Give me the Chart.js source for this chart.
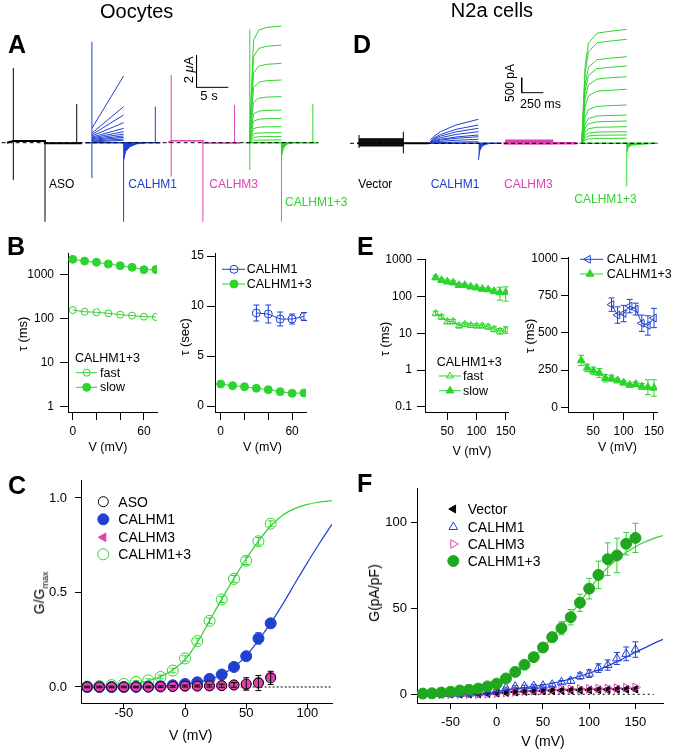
<!DOCTYPE html>
<html>
<head>
<meta charset="utf-8">
<script src="https://cdn.jsdelivr.net/npm/chart.js@4.4.1/dist/chart.umd.min.js"></script>
<style>
body { margin: 0; background: #fff; }
#fig { position: relative; width: 675px; height: 754px; overflow: hidden; font-family: "Liberation Sans", Arial, Helvetica, sans-serif; color: #000; }
#fig canvas { position: absolute; }
.t { position: absolute; white-space: nowrap; line-height: 1; }
</style>
</head>
<body>
<div id="fig"></div>
<script>
// ---------- A: oocyte current families (time s, current uA) ----------
const A_SWEEP_AT = [0, 12.4, 24.9, 37.3];
const A_ASO_BASE = [[-1.0, 0], [0, 0.1], [5, 0.1], [5, -0.03], [10.8, -0.03]];
const A_ASO_SPIKES = [[0, -2.33, 4.67], [5, -4.94, 0], [10, 0, 2.42]];
const A_C1_START = [0.9, 0.6, 0.5, 0.42, 0.35, 0.3, 0.25, 0.2, 0.15, 0.1, 0.05];
const A_C1_END = [4.17, 2.25, 1.73, 1.25, 0.9, 0.69, 0.54, 0.42, 0.33, 0.23, 0.15];
const A_C1_TAIL_T = [5, 5.3, 6, 7, 8.5];
const A_C1_TAIL = [-1.1, -0.55, -0.25, -0.08, 0];
const A_C1_SPIKES = [[0, -2.22, 6.31], [5, -4.94, 0], [10, 0, 2.25]];
const A_C3_BASE = [[-0.5, 0], [0, 0.12], [5, 0.12], [5, -0.02], [10.9, -0.02]];
const A_C3_SPIKES = [[0, -2.12, 4.23], [5, -4.94, 0], [10, 0, 2.36]];
const A_C13_T = [0, 0.2, 0.6, 1.4, 2.7, 5];
const A_C13_TRACES = [
  [0, 2.7, 6.42, 7.04, 7.21, 7.29],
  [0, 2.25, 5.37, 5.89, 6.03, 6.1],
  [0, 1.84, 4.36, 4.79, 4.9, 4.96],
  [0, 1.45, 3.45, 3.78, 3.88, 3.92],
  [0, 1.07, 2.53, 2.78, 2.85, 2.88],
  [0, 0.75, 1.8, 1.97, 2.02, 2.04],
  [0, 0.56, 1.34, 1.47, 1.5, 1.52],
  [0, 0.37, 0.88, 0.97, 0.99, 1.0],
  [0, 0.23, 0.55, 0.61, 0.62, 0.63],
  [0, 0.14, 0.33, 0.37, 0.38, 0.38],
  [0, 0.06, 0.15, 0.16, 0.17, 0.17]
];
const A_C13_TAIL_T = [5, 5.3, 5.8, 6.5, 7];
const A_C13_TAIL = [-0.9, -0.35, -0.1, -0.03, 0];
const A_C13_SPIKES = [[0, -1.7, 7.09], [5, -4.94, 0], [9.95, 0, 2.42]];

// ---------- D: N2a current families (time ms, current pA) ----------
const D_SWEEP_AT = [0, 822, 1690, 2578];
const D_VEC_T = [0, 513];
const D_VEC_HI = 150, D_VEC_LO = -90;
const D_VEC_SPIKES = [[0, -157, 277], [513, -333, 387]];
const D_C1_T = [0, 40, 120, 300, 560];
const D_C1_TRACES = [
  [100, 220, 387, 610, 800],
  [30, 168, 293, 464, 610],
  [25, 138, 240, 380, 500],
  [20, 106, 186, 294, 387],
  [15, 76, 133, 210, 277],
  [10, 60, 106, 167, 220],
  [5, 37, 64, 101, 133],
  [0, 15, 25, 40, 53]
];
const D_C1_TAIL_T = [560, 575, 600, 640, 700];
const D_C1_TAIL = [-557, -250, -100, -40, 0];
const D_C3_T = [0, 560];
const D_C3_HI = 110, D_C3_LO = -20;
const D_C13_T = [0, 38, 77, 174, 289, 521];
const D_C13_TRACES = [
  [0, 2553, 3333, 3667, 3720, 3800],
  [0, 2330, 3040, 3345, 3395, 3467],
  [0, 1940, 2530, 2785, 2825, 2887],
  [0, 1730, 2260, 2485, 2525, 2577],
  [0, 1490, 1945, 2140, 2175, 2220],
  [0, 1210, 1580, 1735, 1760, 1800],
  [0, 860, 1120, 1230, 1250, 1277],
  [0, 635, 825, 910, 925, 943],
  [0, 500, 650, 715, 727, 743],
  [0, 370, 485, 535, 540, 553],
  [0, 260, 340, 375, 380, 387],
  [0, 185, 243, 267, 271, 277],
  [0, 112, 146, 161, 163, 167]
];
const D_C13_TAIL_T = [521, 540, 580, 700, 880];
const D_C13_TAIL = [-300, -120, -60, -30, 0];
const D_C13_SPIKES = [[521, -1447, 0]];

// ---------- B: tau vs V, oocytes ----------
const V_B = [0, 10, 20, 30, 40, 50, 60, 70];
const B_FAST_MS = [154, 141, 137, 130, 121, 115, 109, 107];
const B_SLOW_MS = [2190, 2000, 1875, 1715, 1570, 1443, 1275, 1280];
const V_B_C1 = [30, 40, 50, 60, 70];
const B_C1_SEC = [9.3, 9.2, 8.7, 8.7, 8.95];
const B_C1_SEC_ERR = [0.8, 0.9, 0.7, 0.5, 0.4];
const B_C13_SEC = [2.2, 2.03, 1.93, 1.77, 1.63, 1.43, 1.27, 1.3];

// ---------- E: tau vs V, N2a ----------
const V_E = [30, 40, 50, 60, 70, 80, 90, 100, 110, 120, 130, 140, 150];
const E_SLOW_MS = [330, 280, 255, 240, 205, 205, 185, 175, 160, 155, 140, 130, 130];
const E_SLOW_ERR = [40, 30, 30, 30, 25, 20, 20, 20, 15, 15, 20, 50, 55];
const E_FAST_MS = [35, 28, 21, 21, 16, 17.5, 16.5, 16, 16, 15, 13, 11.5, 12.5];
const E_FAST_ERR = [5, 4, 3, 3, 2, 2, 2, 2, 2, 2, 2, 2, 2.5];
const V_E_C1 = [80, 90, 100, 110, 120, 130, 140, 150];
const E_C1_MS = [690, 620, 630, 680, 660, 565, 550, 600];
const E_C1_ERR = [45, 55, 55, 45, 40, 55, 65, 65];
const E_C13_MS = [315, 265, 245, 230, 195, 195, 180, 165, 150, 155, 140, 135, 130];
const E_C13_ERR = [35, 25, 25, 30, 25, 20, 15, 15, 15, 15, 20, 50, 55];

// ---------- C: G/Gmax, oocytes ----------
const V_C = [-80, -70, -60, -50, -40, -30, -20, -10, 0, 10, 20, 30, 40, 50, 60, 70];
const C_ASO = [0, 0, 0, 0, 0, 0, 0.002, 0.003, 0.005, 0.005, 0.006, 0.007, 0.011, 0.016, 0.021, 0.048];
const C_ASO_ERR = [0.004, 0.004, 0.004, 0.004, 0.004, 0.004, 0.004, 0.004, 0.005, 0.005, 0.006, 0.008, 0.012, 0.033, 0.04, 0.035];
const C_CALHM3 = [0, 0, 0, 0, 0, 0, 0, 0.002, 0.004, 0.005, 0.006, 0.008, 0.01, 0.012, 0.025, 0.053];
const C_CALHM1 = [0, 0, 0, 0, 0.001, 0.002, 0.004, 0.009, 0.016, 0.025, 0.043, 0.066, 0.106, 0.163, 0.257, 0.337];
const C_CALHM1_ERR = [0.003, 0.003, 0.003, 0.003, 0.003, 0.003, 0.004, 0.004, 0.005, 0.005, 0.006, 0.006, 0.008, 0.015, 0.03, 0.02];
const C_CALHM13 = [0.003, 0.005, 0.01, 0.016, 0.027, 0.035, 0.053, 0.087, 0.151, 0.243, 0.35, 0.463, 0.572, 0.668, 0.771, 0.864];
const C_CALHM13_ERR = [0.004, 0.004, 0.005, 0.006, 0.007, 0.008, 0.01, 0.012, 0.014, 0.015, 0.015, 0.016, 0.018, 0.02, 0.02, 0.015];
const V_C_FIT = [-85, -80, -70, -60, -50, -40, -30, -20, -10, 0, 10, 20, 30, 40, 50, 60, 70, 80, 90, 100, 110, 120];
const C_FIT_CALHM13 = [0.002, 0.003, 0.005, 0.008, 0.013, 0.021, 0.033, 0.055, 0.09, 0.145, 0.235, 0.35, 0.465, 0.575, 0.678, 0.772, 0.852, 0.91, 0.945, 0.966, 0.978, 0.986];
const C_FIT_CALHM1 = [0, 0, 0, 0, 0.001, 0.001, 0.002, 0.004, 0.008, 0.014, 0.024, 0.04, 0.066, 0.106, 0.165, 0.248, 0.338, 0.44, 0.55, 0.658, 0.762, 0.86];

// ---------- F: G (pA/pF), N2a ----------
const V_F = [-80, -70, -60, -50, -40, -30, -20, -10, 0, 10, 20, 30, 40, 50, 60, 70, 80, 90, 100, 110, 120, 130, 140, 150];
const F_CALHM13 = [0.4, 0.6, 1.0, 1.5, 2.2, 2.6, 3.3, 4.6, 6.2, 9.2, 13.0, 17.2, 21.6, 27.2, 33.2, 38.4, 44.8, 53.2, 61.4, 69.4, 78.5, 80.7, 87.5, 90.9];
const F_CALHM13_ERR = [0.5, 0.5, 0.5, 0.5, 0.6, 0.7, 0.8, 0.9, 1.0, 1.2, 1.4, 1.6, 1.8, 2.0, 2.8, 3.8, 4.5, 5, 6, 8, 9.5, 10, 6.5, 8.5];
const F_CALHM1 = [0.3, 0.3, 0.2, 0.2, 0.3, 0.4, 0.6, 1.2, 2.2, 3.6, 4.4, 4.6, 4.8, 5.0, 5.6, 7.0, 7.8, 10.6, 12.0, 15.2, 17.0, 20.8, 23.5, 26.0];
const F_CALHM1_ERR = [0.3, 0.3, 0.3, 0.3, 0.3, 0.3, 0.3, 0.4, 0.5, 0.6, 0.6, 0.7, 0.8, 0.8, 0.9, 1.0, 1.5, 1.8, 2.2, 2.5, 3.0, 3.5, 4.0, 4.5];
const F_CALHM3 = [0.1, 0.1, 0.1, 0.1, 0.1, 0.1, 0.1, 0.3, 0.6, 1.0, 1.4, 1.8, 2.1, 2.4, 2.6, 2.8, 3.0, 3.1, 3.2, 3.3, 3.4, 3.6, 3.8, 4.0];
const F_VECTOR = [0.3, 0.2, 0.2, 0.1, 0.1, 0.1, 0.2, 0.4, 0.7, 1.0, 1.3, 1.6, 1.8, 2.0, 2.1, 2.2, 2.3, 2.4, 2.5, 2.6, 2.7, 2.8, 2.9, 3.0];
const V_F_FIT = [-85, -80, -70, -60, -50, -40, -30, -20, -10, 0, 10, 20, 30, 40, 50, 60, 70, 80, 90, 100, 110, 120, 130, 140, 150, 160, 170, 180];
const F_FIT_CALHM13 = [0.3, 0.3, 0.5, 0.8, 1.1, 1.6, 2.3, 3.3, 4.7, 6.6, 9.2, 12.5, 16.7, 21.6, 27.1, 33.2, 39.6, 46.4, 53.5, 61, 67.8, 73.6, 78.5, 82.5, 85.8, 88.5, 90.6, 92.3];
const F_FIT_CALHM1 = [0, 0, 0, 0, 0, 0, 0.1, 0.3, 0.9, 1.6, 2.4, 3.2, 3.9, 4.6, 5.4, 6.4, 7.6, 9.0, 10.5, 12.2, 14.2, 16.5, 19.0, 21.7, 24.5, 27.0, 29.6, 32.0];
const V_F_FIT_C3 = [-20, -10, 0, 10, 20, 40, 60, 80, 100, 120, 150];
const F_FIT_CALHM3 = [0.2, 0.5, 0.8, 1.2, 1.6, 2.2, 2.6, 2.9, 3.1, 3.3, 3.5];

// ---------- styling ----------
const FONT = '"Liberation Sans", Arial, Helvetica, sans-serif';
const GREEN = '#2ed42e';
const GREEN_F = '#1fa81f';
const BLUE = '#2040d0';
const MAGENTA = '#e040b0';

const fig = document.getElementById('fig');

function addCanvas(r) {
  const c = document.createElement('canvas');
  c.width = r.w; c.height = r.h;
  c.style.left = r.l + 'px'; c.style.top = r.t + 'px';
  fig.appendChild(c);
  return c;
}

function label(html, x, base, size, opt) {
  opt = opt || {};
  const d = document.createElement('div');
  d.className = 't';
  d.innerHTML = html;
  d.style.fontSize = size + 'px';
  d.style.top = (base - 0.8465 * size) + 'px';
  d.style.left = x + 'px';
  if (opt.color) d.style.color = opt.color;
  if (opt.bold) d.style.fontWeight = 'bold';
  if (opt.center) d.style.transform = 'translateX(-50%)';
  fig.appendChild(d);
}

function vlabel(html, cx, cy, size) {
  const d = document.createElement('div');
  d.className = 't';
  d.innerHTML = html;
  d.style.fontSize = size + 'px';
  d.style.left = cx + 'px';
  d.style.top = cy + 'px';
  d.style.transform = 'translate(-50%,-50%) rotate(-90deg)';
  fig.appendChild(d);
}

const pts = (xs, ys) => xs.map((x, i) => ({x: x, y: ys[i]}));

const errorBars = {
  id: 'errorBars',
  beforeDatasetDraw(chart, args) {
    const ds = chart.data.datasets[args.index];
    if (!ds.errors) return;
    const ys = chart.scales.y, ctx = chart.ctx, c = ds.cap || 3;
    ctx.save();
    ctx.strokeStyle = ds.errorColor || ds.pointBorderColor;
    ctx.lineWidth = 1;
    args.meta.data.forEach((p, i) => {
      const e = ds.errors[i];
      if (!e) return;
      const v = ds.data[i].y;
      let lo = v - e;
      if (ys.type === 'logarithmic' && lo <= 0) lo = ys.min;
      const y1 = ys.getPixelForValue(v + e), y2 = ys.getPixelForValue(lo);
      ctx.beginPath();
      ctx.moveTo(p.x, y1); ctx.lineTo(p.x, y2);
      ctx.moveTo(p.x - c, y1); ctx.lineTo(p.x + c, y1);
      ctx.moveTo(p.x - c, y2); ctx.lineTo(p.x + c, y2);
      ctx.stroke();
    });
    ctx.restore();
  }
};

function drawMark(ctx, s, x, y) {
  const r = s.pointRadius, rot = (s.pointRotation || 0) * Math.PI / 180;
  ctx.beginPath();
  if (s.pointStyle === 'triangle') {
    for (let k = 0; k < 3; k++) {
      const a = rot + k * 2 * Math.PI / 3;
      const px = x + Math.sin(a) * r, py = y - Math.cos(a) * r;
      if (k) ctx.lineTo(px, py); else ctx.moveTo(px, py);
    }
    ctx.closePath();
  } else {
    ctx.arc(x, y, r, 0, 2 * Math.PI);
  }
  ctx.fillStyle = s.pointBackgroundColor;
  ctx.fill();
  ctx.lineWidth = s.pointBorderWidth || 1;
  ctx.strokeStyle = s.pointBorderColor;
  ctx.stroke();
}

const legendMarks = {
  id: 'legendMarks',
  afterDraw(chart, args, opts) {
    const ctx = chart.ctx, ox = opts.origin[0], oy = opts.origin[1];
    (opts.items || []).forEach(it => {
      const ds = Object.assign({}, chart.data.datasets[it.ds], it.style || {});
      const y = it.y - oy;
      ctx.save();
      if (it.line) {
        ctx.strokeStyle = ds.borderColor;
        ctx.lineWidth = 1;
        ctx.beginPath();
        ctx.moveTo(it.line[0] - ox, y); ctx.lineTo(it.line[1] - ox, y);
        ctx.stroke();
      }
      drawMark(ctx, ds, it.x - ox, y);
      ctx.restore();
    });
  }
};

function axisOpts(a, pos, w, h) {
  return {
    type: a.type || 'linear', position: pos, min: a.min, max: a.max, bounds: 'data',
    border: {display: true, color: '#000', width: 1},
    grid: {display: true, drawOnChartArea: false, drawTicks: true, tickLength: a.tick || 5, color: '#000', lineWidth: 1},
    ticks: {
      color: '#000', font: {family: FONT, size: a.size || 12}, padding: a.pad == null ? 2 : a.pad,
      autoSkip: false, maxRotation: 0, minRotation: 0,
      callback: (v) => a.fmt ? a.fmt(v) : String(v)
    },
    afterBuildTicks: (s) => { s.ticks = a.ticks.map(v => ({value: v})); },
    afterFit: (s) => {
      if (w != null) s.width = w;
      if (h != null) s.height = h;
      s.paddingLeft = s.paddingRight = s.paddingTop = s.paddingBottom = 0;
    }
  };
}

function plotChart(rect, area, xAx, yAx, datasets, items) {
  return new Chart(addCanvas(rect), {
    type: 'scatter',
    data: {datasets: datasets},
    options: {
      responsive: false, animation: false, devicePixelRatio: 1, events: [],
      layout: {padding: {left: 0, bottom: 0, top: area.t - rect.t, right: rect.l + rect.w - area.r}},
      plugins: {legend: {display: false}, tooltip: {enabled: false},
        legendMarks: {items: items || [], origin: [rect.l, rect.t]}},
      scales: {
        x: axisOpts(xAx, 'bottom', null, rect.t + rect.h - area.b),
        y: axisOpts(yAx, 'left', area.l - rect.l, null)
      }
    },
    plugins: [errorBars, legendMarks]
  });
}

function traceChart(rect, xr, yr, datasets) {
  return new Chart(addCanvas(rect), {
    type: 'scatter',
    data: {datasets: datasets},
    options: {
      responsive: false, animation: false, devicePixelRatio: 1, events: [],
      layout: {padding: 0},
      plugins: {legend: {display: false}, tooltip: {enabled: false}},
      scales: {
        x: {type: 'linear', display: false, min: xr[0], max: xr[1], bounds: 'data'},
        y: {type: 'linear', display: false, min: yr[0], max: yr[1], bounds: 'data'}
      }
    }
  });
}

function markers(xs, ys, style, errs) {
  return Object.assign({data: pts(xs, ys), showLine: false, pointBorderWidth: 1, errors: errs}, style);
}

function curve(xs, ys, color, extra) {
  return Object.assign({data: pts(xs, ys), showLine: true, borderColor: color, borderWidth: 1.2,
    pointRadius: 0, cubicInterpolationMode: 'monotone'}, extra || {});
}

function connected(xs, ys, style, errs) {
  return Object.assign({data: pts(xs, ys), showLine: true, borderWidth: 1, pointBorderWidth: 1, errors: errs}, style);
}

function tr(points, color, width, extra) {
  return Object.assign({data: points, showLine: true, borderColor: color, borderWidth: width || 1,
    pointRadius: 0, spanGaps: false}, extra || {});
}
const shift = (pairs, off) => pairs.map(p => ({x: p[0] + off, y: p[1]}));
const spikes = (sp, off) => sp.flatMap(s => [{x: s[0] + off, y: s[1]}, {x: s[0] + off, y: s[2]}, {x: s[0] + off, y: null}]);
const series = (ts, vs, off) => ts.map((t, k) => ({x: t + off, y: vs[k]}));

// ---------- A ----------
(function () {
  const [o0, o1, o2, o3] = A_SWEEP_AT;
  const ds = [];
  ds.push(tr([{x: -1.84, y: 0}, {x: 48.1, y: 0}], '#000', 1, {borderDash: [4, 3]}));
  ds.push(tr([{x: 28.9, y: 3.46 + 2}, {x: 28.9, y: 3.46}, {x: 28.9 + 5, y: 3.46}], '#000', 1));
  ds.push(tr(spikes(A_ASO_SPIKES, o0), '#000'));
  ds.push(tr(spikes(A_C1_SPIKES, o1), BLUE));
  ds.push(tr(spikes(A_C3_SPIKES, o2), MAGENTA));
  ds.push(tr(spikes(A_C13_SPIKES, o3), GREEN));
  A_C13_TRACES.forEach(v => ds.push(tr(series(A_C13_T, v, o3), GREEN)));
  A_C1_END.forEach((v, k) => ds.push(tr([{x: o1, y: A_C1_START[k]}, {x: o1 + 5, y: v}], BLUE)));
  ds.push(tr(series(A_C1_TAIL_T, A_C1_TAIL, o1), BLUE, 1, {fill: {value: 0}, backgroundColor: BLUE}));
  ds.push(tr(series(A_C13_TAIL_T, A_C13_TAIL, o3), GREEN, 1, {fill: {value: 0}, backgroundColor: GREEN}));
  ds.push(tr(shift(A_ASO_BASE, o0), '#000', 2));
  ds.push(tr(shift([[-1.06, 0], [10.8, 0]], o1), BLUE, 1.5));
  ds.push(tr(shift(A_C3_BASE, o2), MAGENTA, 1.5));
  ds.push(tr(shift([[-0.7, 0], [10.8, 0]], o3), GREEN, 1.5));
  traceChart({l: 0, t: 20, w: 340, h: 215}, [-2.1, 51.53], [-5.77, 7.67], ds);
})();

// ---------- D ----------
(function () {
  const [o0, o1, o2, o3] = D_SWEEP_AT;
  const ds = [];
  ds.push(tr([{x: -104, y: 0}, {x: 3446, y: 0}], '#000', 1, {borderDash: [4, 3]}));
  ds.push(tr([{x: 1883, y: 1687 + 500}, {x: 1883, y: 1687}, {x: 1883 + 250, y: 1687}], '#000', 1));
  ds.push(tr(spikes(D_VEC_SPIKES, o0), '#000'));
  ds.push(tr(spikes(D_C13_SPIKES, o3), GREEN));
  D_C13_TRACES.forEach(v => ds.push(tr(series(D_C13_T, v, o3), GREEN)));
  D_C1_TRACES.forEach(v => ds.push(tr(series(D_C1_T, v, o1), BLUE)));
  ds.push(tr(series(D_C1_TAIL_T, D_C1_TAIL, o1), BLUE, 1, {fill: {value: 0}, backgroundColor: BLUE}));
  ds.push(tr(series(D_C13_TAIL_T, D_C13_TAIL, o3), GREEN, 1, {fill: {value: 0}, backgroundColor: GREEN}));
  ds.push(tr(series(D_VEC_T, [D_VEC_HI, D_VEC_HI], o0), '#000', 1, {fill: {value: 0}, backgroundColor: '#111'}));
  ds.push(tr(series(D_VEC_T, [D_VEC_LO, D_VEC_LO], o0), '#000', 1, {fill: {value: 0}, backgroundColor: '#111'}));
  ds.push(tr(series(D_C3_T, [D_C3_HI, D_C3_HI], o2), MAGENTA, 1, {fill: {value: 0}, backgroundColor: MAGENTA}));
  ds.push(tr(series(D_C3_T, [D_C3_LO, D_C3_LO], o2), MAGENTA, 1, {fill: {value: 0}, backgroundColor: MAGENTA}));
  ds.push(tr(shift([[-20, 0], [805, 0]], o0), '#000', 2));
  ds.push(tr(shift([[-20, 0], [830, 0]], o1), BLUE, 1.5));
  ds.push(tr(shift([[-20, 0], [830, 0]], o2), MAGENTA, 2.5));
  ds.push(tr(shift([[-30, 0], [880, 0]], o3), GREEN, 1.5));
  traceChart({l: 340, t: 20, w: 335, h: 215}, [-220, 3657], [-3057, 4110], ds);
})();

// ---------- B ----------
const msFmt = (v) => String(v);
plotChart({l: 0, t: 245, w: 170, h: 200}, {l: 68, t: 253, r: 157, b: 412},
  {min: -4, max: 71, ticks: [0, 20, 40, 60], fmt: v => (v === 0 || v === 60) ? String(v) : '', size: 12, tick: 8, pad: 4.5},
  {type: 'logarithmic', min: 0.742, max: 3050, ticks: [1, 10, 100, 1000], fmt: msFmt, size: 12, tick: 8, pad: 6},
  [
    connected(V_B, B_FAST_MS, {borderColor: GREEN, pointStyle: 'circle', pointRadius: 3.5, pointBackgroundColor: 'rgba(0,0,0,0)', pointBorderColor: GREEN}),
    connected(V_B, B_SLOW_MS, {borderColor: GREEN, pointStyle: 'circle', pointRadius: 4, pointBackgroundColor: GREEN, pointBorderColor: GREEN})
  ],
  [{ds: 0, x: 86.7, y: 372.7, line: [76, 97]}, {ds: 1, x: 86.7, y: 387.3, line: [76, 97]}]);

plotChart({l: 170, t: 245, w: 170, h: 200}, {l: 215, t: 253, r: 306, b: 412},
  {min: -4.8, max: 71.7, ticks: [0, 20, 40, 60], fmt: v => (v === 0 || v === 60) ? String(v) : '', size: 12, tick: 8, pad: 4.5},
  {min: -0.6, max: 15.3, ticks: [0, 5, 10, 15], size: 12, tick: 8, pad: 3},
  [
    connected(V_B_C1, B_C1_SEC, {borderColor: BLUE, pointStyle: 'circle', pointRadius: 4, pointBackgroundColor: 'rgba(0,0,0,0)', pointBorderColor: BLUE, cap: 3}, B_C1_SEC_ERR),
    connected(V_B, B_C13_SEC, {borderColor: GREEN, pointStyle: 'circle', pointRadius: 4, pointBackgroundColor: GREEN, pointBorderColor: GREEN})
  ],
  [{ds: 0, x: 234, y: 269.3, line: [222, 245]}, {ds: 1, x: 234, y: 284, line: [222, 245]}]);

// ---------- E ----------
plotChart({l: 340, t: 245, w: 180, h: 200}, {l: 425, t: 259, r: 508, b: 412},
  {min: 11.8, max: 154, ticks: [50, 100, 150], size: 12, tick: 8, pad: 4.8},
  {type: 'logarithmic', min: 0.0718, max: 1058, ticks: [0.1, 1, 10, 100, 1000], fmt: msFmt, size: 12, tick: 8, pad: 5},
  [
    connected(V_E, E_FAST_MS, {borderColor: GREEN, pointStyle: 'triangle', pointRadius: 4, pointBackgroundColor: 'rgba(0,0,0,0)', pointBorderColor: GREEN, cap: 3}, E_FAST_ERR),
    connected(V_E, E_SLOW_MS, {borderColor: GREEN, pointStyle: 'triangle', pointRadius: 4.5, pointBackgroundColor: GREEN, pointBorderColor: GREEN, cap: 3}, E_SLOW_ERR)
  ],
  [{ds: 0, x: 450, y: 376, line: [439, 461]}, {ds: 1, x: 450, y: 390.7, line: [439, 461]}]);

plotChart({l: 510, t: 245, w: 165, h: 200}, {l: 568, t: 257, r: 657, b: 412},
  {min: 8.3, max: 155, ticks: [50, 100, 150], size: 12, tick: 8, pad: 4.8},
  {min: -31.6, max: 1010, ticks: [0, 250, 500, 750, 1000], size: 12, tick: 7, pad: 3},
  [
    connected(V_E_C1, E_C1_MS, {borderColor: BLUE, pointStyle: 'triangle', pointRotation: -90, pointRadius: 4.5, pointBackgroundColor: 'rgba(0,0,0,0)', pointBorderColor: BLUE, cap: 3}, E_C1_ERR),
    connected(V_E, E_C13_MS, {borderColor: GREEN, pointStyle: 'triangle', pointRadius: 4.5, pointBackgroundColor: GREEN, pointBorderColor: GREEN, cap: 3}, E_C13_ERR)
  ],
  [{ds: 0, x: 588, y: 259.3, line: [580, 603]}, {ds: 1, x: 590, y: 274, line: [580, 603]}]);

// ---------- C ----------
plotChart({l: 0, t: 470, w: 340, h: 284}, {l: 81, t: 480, r: 332, b: 703},
  {min: -85, max: 120.1, ticks: [-50, 0, 50, 100], size: 13, tick: 6, pad: -3.8},
  {min: -0.0847, max: 1.0952, ticks: [0, 0.5, 1], fmt: v => v.toFixed(1), size: 13, tick: 6, pad: 8},
  [
    markers(V_C, C_ASO, {pointStyle: 'circle', pointRadius: 5, pointBackgroundColor: 'rgba(0,0,0,0)', pointBorderColor: '#000', cap: 3}, C_ASO_ERR),
    markers(V_C, C_CALHM3, {pointStyle: 'circle', pointRadius: 5, pointBackgroundColor: MAGENTA, pointBorderColor: MAGENTA}),
    markers(V_C, C_CALHM1, {pointStyle: 'circle', pointRadius: 5.5, pointBackgroundColor: BLUE, pointBorderColor: BLUE, cap: 3}, C_CALHM1_ERR),
    markers(V_C, C_CALHM13, {pointStyle: 'circle', pointRadius: 5.5, pointBackgroundColor: 'rgba(0,0,0,0)', pointBorderColor: GREEN, cap: 3}, C_CALHM13_ERR),
    curve(V_C_FIT, C_FIT_CALHM13, GREEN),
    curve(V_C_FIT, C_FIT_CALHM1, BLUE),
    curve([-82, 120], [0, 0], '#000', {borderWidth: 1, borderDash: [2, 2]})
  ],
  [
    {ds: 0, x: 103.3, y: 501.7},
    {ds: 2, x: 103.3, y: 519.3},
    {ds: 1, x: 103.3, y: 537.3, style: {pointStyle: 'triangle', pointRotation: -90}},
    {ds: 3, x: 103.3, y: 554.3}
  ]);

// ---------- F ----------
plotChart({l: 340, t: 470, w: 335, h: 284}, {l: 417, t: 488, r: 663, b: 703},
  {min: -86.2, max: 179.8, ticks: [-50, 0, 50, 100, 150], size: 13, tick: 6, pad: 5.2},
  {min: -5.06, max: 119.9, ticks: [0, 50, 100], size: 13, tick: 6, pad: 4},
  [
    markers(V_F, F_CALHM13, {pointStyle: 'circle', pointRadius: 5.5, pointBackgroundColor: GREEN_F, pointBorderColor: GREEN_F, errorColor: GREEN, cap: 3}, F_CALHM13_ERR),
    markers(V_F, F_CALHM1, {pointStyle: 'triangle', pointRadius: 5, pointBackgroundColor: 'rgba(0,0,0,0)', pointBorderColor: BLUE, cap: 3}, F_CALHM1_ERR),
    markers(V_F, F_CALHM3, {pointStyle: 'triangle', pointRotation: 90, pointRadius: 5, pointBackgroundColor: 'rgba(0,0,0,0)', pointBorderColor: MAGENTA}),
    markers(V_F, F_VECTOR, {pointStyle: 'triangle', pointRotation: -90, pointRadius: 4.5, pointBackgroundColor: '#000', pointBorderColor: '#000'}),
    curve(V_F_FIT, F_FIT_CALHM13, GREEN),
    curve(V_F_FIT, F_FIT_CALHM1, BLUE),
    curve(V_F_FIT_C3, F_FIT_CALHM3, MAGENTA),
    curve([-80, 170], [0, 0], '#000', {borderWidth: 1, borderDash: [2, 3]})
  ],
  [
    {ds: 3, x: 453.3, y: 509},
    {ds: 1, x: 453.3, y: 527},
    {ds: 2, x: 453.3, y: 544},
    {ds: 0, x: 453.3, y: 561}
  ]);

// ---------- text ----------
label('Oocytes', 136.7, 18.3, 20, {center: true});
label('N2a cells', 492, 17.3, 20, {center: true});
label('A', 8, 53, 25, {bold: true});
label('D', 353, 53.3, 25, {bold: true});
label('B', 7, 255.3, 25, {bold: true});
label('E', 357, 255, 25, {bold: true});
label('C', 8, 494, 25, {bold: true});
label('F', 357, 492.3, 25, {bold: true});

label('ASO', 49, 188.3, 12);
label('CALHM1', 128.3, 188.3, 12, {color: BLUE});
label('CALHM3', 209.3, 188.3, 12, {color: MAGENTA});
label('CALHM1+3', 285, 205.7, 12, {color: GREEN});
label('Vector', 358.3, 188.3, 12);
label('CALHM1', 430.7, 188.3, 12, {color: BLUE});
label('CALHM3', 504, 188.3, 12, {color: MAGENTA});
label('CALHM1+3', 574.3, 202.7, 12, {color: GREEN});

vlabel('2 <i>&mu;</i>A', 187.5, 70, 13);
label('5 s', 209, 100, 13, {center: true});
vlabel('500 pA', 510.3, 83.3, 12);
label('250 ms', 540.5, 108.3, 12.5, {center: true});

vlabel('&tau; (ms)', 21.7, 334, 13);
vlabel('&tau; (sec)', 184, 337, 13);
vlabel('&tau; (ms)', 384, 339, 13);
vlabel('&tau; (ms)', 529, 336, 13);
label('V (mV)', 108, 451.5, 12.5, {center: true});
label('V (mV)', 262.5, 451.5, 12.5, {center: true});
label('V (mV)', 472, 456, 12.5, {center: true});
label('V (mV)', 617.5, 452, 12.5, {center: true});

label('CALHM1+3', 75, 362.8, 12.5);
label('fast', 100, 377.2, 12.5);
label('slow', 100, 391.8, 12.5);
label('CALHM1', 246.7, 273.8, 12.5);
label('CALHM1+3', 246.7, 288.5, 12.5);
label('CALHM1+3', 436.7, 366.2, 12.5);
label('fast', 463, 380.5, 12.5);
label('slow', 463, 395.2, 12.5);
label('CALHM1', 606.7, 263.8, 12.5);
label('CALHM1+3', 606.7, 278.5, 12.5);

vlabel('G/G<sub style="font-size:9px">max</sub>', 41, 593, 14);
label('V (mV)', 190.7, 739.5, 14, {center: true});
label('ASO', 118.3, 506.7, 14);
label('CALHM1', 118.3, 524.3, 14);
label('CALHM3', 118.3, 542.3, 14);
label('CALHM1+3', 118.3, 559.3, 14);

vlabel('G(pA/pF)', 374, 593, 14);
label('V (mV)', 543, 746, 14, {center: true});
label('Vector', 467.7, 514, 14);
label('CALHM1', 467.7, 532, 14);
label('CALHM3', 467.7, 549, 14);
label('CALHM1+3', 467.7, 566, 14);
</script>
</body>
</html>
